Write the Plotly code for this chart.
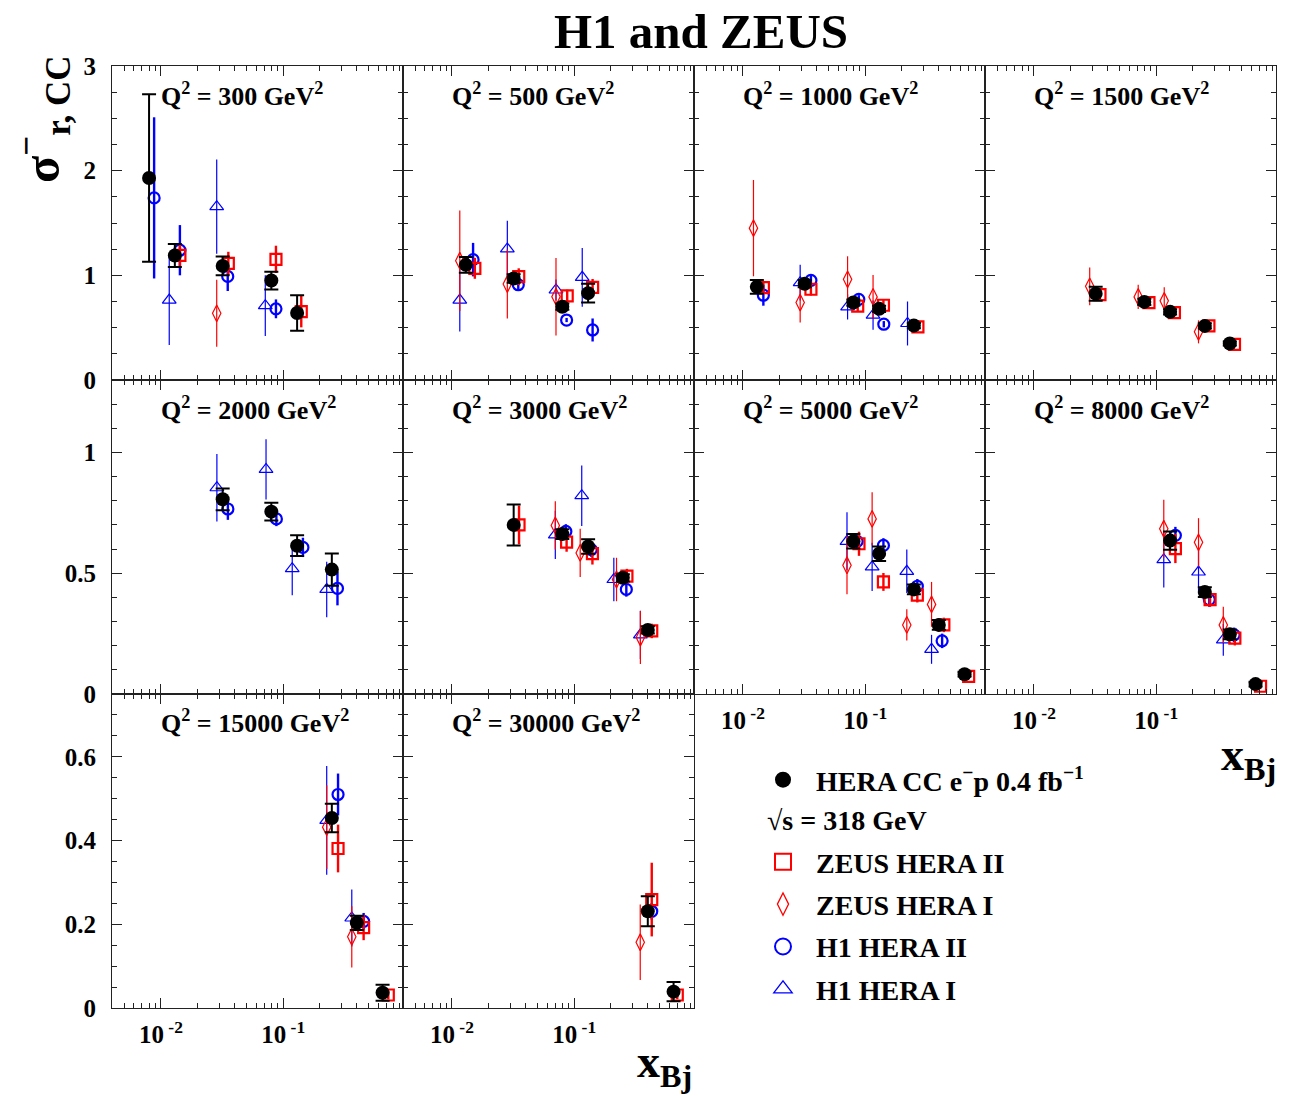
import plotly.graph_objects as go

W, H = 1300, 1096
FONT = "Liberation Serif"

# ---------------- data ----------------
Q2 = [300, 500, 1000, 1500, 2000, 3000, 5000, 8000, 15000, 30000]

# HERA combined CC e-p
hera_x = [[0.008, 0.013, 0.032, 0.08, 0.13],
          [0.013, 0.032, 0.08, 0.13],
          [0.013, 0.032, 0.08, 0.13, 0.25],
          [0.032, 0.08, 0.13, 0.25, 0.40],
          [0.032, 0.08, 0.13, 0.25],
          [0.032, 0.08, 0.13, 0.25, 0.40],
          [0.08, 0.13, 0.25, 0.40, 0.65],
          [0.13, 0.25, 0.40, 0.65],
          [0.25, 0.40, 0.65],
          [0.40, 0.65]]
hera_y = [[1.93, 1.19, 1.09, 0.95, 0.64],
          [1.10, 0.97, 0.70, 0.83],
          [0.89, 0.92, 0.74, 0.68, 0.52],
          [0.825, 0.746, 0.651, 0.517, 0.349],
          [0.806, 0.755, 0.614, 0.515],
          [0.70, 0.662, 0.611, 0.481, 0.265],
          [0.632, 0.581, 0.433, 0.286, 0.082],
          [0.635, 0.422, 0.247, 0.041],
          [0.454, 0.2035, 0.0366],
          [0.231, 0.039]]
hera_e = [[0.80, 0.11, 0.09, 0.085, 0.17],
          [0.075, 0.04, 0.03, 0.09],
          [0.065, 0.035, 0.03, 0.03, 0.025],
          [0.067, 0.03, 0.025, 0.025, 0.02],
          [0.045, 0.037, 0.043, 0.067],
          [0.085, 0.02, 0.03, 0.015, 0.015],
          [0.03, 0.03, 0.02, 0.02, 0.01],
          [0.038, 0.02, 0.02, 0.01],
          [0.034, 0.017, 0.019],
          [0.036, 0.023]]

# ZEUS HERA II
zeus2_x = [[0.0143, 0.0356, 0.0873, 0.1406],
           [0.0154, 0.0352, 0.0877, 0.1415],
           [0.0147, 0.036, 0.0869, 0.141, 0.27],
           [0.0347, 0.0873, 0.141, 0.27, 0.437],
           [],
           [0.0354, 0.0867, 0.141, 0.27, 0.431],
           [0.089, 0.141, 0.267, 0.44, 0.702],
           [0.1436, 0.276, 0.44, 0.714],
           [0.281, 0.455, 0.724],
           [0.431, 0.697]]
zeus2_y = [[1.19, 1.115, 1.153, 0.653],
           [1.067, 0.987, 0.803, 0.885],
           [0.883, 0.867, 0.705, 0.714, 0.508],
           [0.816, 0.74, 0.644, 0.517, 0.34],
           [],
           [0.70, 0.629, 0.581, 0.488, 0.261],
           [0.622, 0.464, 0.409, 0.286, 0.073],
           [0.602, 0.391, 0.231, 0.032],
           [0.381, 0.192, 0.031],
           [0.259, 0.031]]
zeus2_e = [[0.10, 0.11, 0.13, 0.15],
           [0.10, 0.08, 0.06, 0.08],
           [0.05, 0.06, 0.05, 0.05, 0.03],
           [0.05, 0.03, 0.03, 0.03, 0.02],
           [],
           [0.08, 0.04, 0.045, 0.03, 0.03],
           [0.05, 0.037, 0.03, 0.03, 0.01],
           [0.06, 0.03, 0.03, 0.01],
           [0.057, 0.03, 0.01],
           [0.088, 0.01]]

# ZEUS HERA I
zeus1_x = [[0.0286],
           [0.0116, 0.0284, 0.071],
           [0.0122, 0.0294, 0.0718, 0.116],
           [0.0286, 0.0713, 0.1164, 0.222],
           [],
           [0.0701, 0.112, 0.222, 0.348],
           [0.071, 0.114, 0.219, 0.349],
           [0.1154, 0.222, 0.354],
           [0.227, 0.364],
           [0.347]]
zeus1_y = [[0.637],
           [1.14, 0.917, 0.796],
           [1.451, 0.74, 0.962, 0.794],
           [0.895, 0.794, 0.756, 0.46],
           [],
           [0.698, 0.584, 0.474, 0.234],
           [0.533, 0.725, 0.286, 0.371],
           [0.684, 0.628, 0.286],
           [0.432, 0.17],
           [0.157]]
zeus1_e = [[0.32],
           [0.48, 0.33, 0.37],
           [0.46, 0.19, 0.22, 0.21],
           [0.18, 0.115, 0.13, 0.11],
           [],
           [0.10, 0.10, 0.09, 0.11],
           [0.12, 0.11, 0.065, 0.093],
           [0.12, 0.10, 0.075],
           [0.10, 0.073],
           [0.09]]

# H1 HERA II
h12_x = [[0.0088, 0.0143, 0.0352, 0.0873],
         [0.0149, 0.0349, 0.0867, 0.1415],
         [0.0147, 0.036, 0.0887, 0.142],
         [],
         [0.0353, 0.088, 0.145, 0.278],
         [0.0855, 0.138, 0.267],
         [0.086, 0.141, 0.267, 0.426],
         [0.1436, 0.272, 0.434],
         [0.281, 0.455],
         [0.431]]
h12_y = [[1.74, 1.24, 0.99, 0.68],
         [1.15, 0.91, 0.573, 0.478],
         [0.81, 0.952, 0.771, 0.533],
         [],
         [0.766, 0.725, 0.607, 0.437],
         [0.673, 0.598, 0.433],
         [0.632, 0.615, 0.446, 0.22],
         [0.657, 0.391, 0.245],
         [0.51, 0.207],
         [0.231]]
h12_e = [[0.77, 0.24, 0.14, 0.09],
         [0.16, 0.06, 0.02, 0.11],
         [0.10, 0.05, 0.04, 0.03],
         [],
         [0.045, 0.03, 0.04, 0.07],
         [0.03, 0.03, 0.03],
         [0.03, 0.03, 0.03, 0.03],
         [0.035, 0.03, 0.03],
         [0.05, 0.02],
         [0.02]]

# H1 HERA I
h11_x = [[0.0117, 0.0286, 0.0714],
         [0.0116, 0.0284, 0.071, 0.1164],
         [0.0294, 0.0718, 0.116, 0.222],
         [],
         [0.0287, 0.0724, 0.1186, 0.227],
         [0.0701, 0.1153, 0.211, 0.348],
         [0.071, 0.114, 0.219, 0.349],
         [0.1154, 0.222, 0.354],
         [0.227, 0.364],
         []]
h11_y = [[0.764, 1.656, 0.71],
         [0.764, 1.252, 0.86, 0.981],
         [0.93, 0.698, 0.619, 0.54],
         [],
         [0.854, 0.93, 0.519, 0.433],
         [0.659, 0.821, 0.474, 0.245],
         [0.632, 0.526, 0.508, 0.185],
         [0.556, 0.505, 0.224],
         [0.448, 0.215],
         []]
h11_e = [[0.43, 0.45, 0.29],
         [0.30, 0.27, 0.10, 0.28],
         [0.17, 0.12, 0.14, 0.21],
         [],
         [0.14, 0.125, 0.11, 0.115],
         [0.10, 0.125, 0.09, 0.10],
         [0.12, 0.10, 0.09, 0.06],
         [0.115, 0.09, 0.066],
         [0.13, 0.068],
         []]

row_ranges = [[0, 3], [0, 1.3], [0, 0.75]]
row_major = [[0, 1, 2, 3], [0, 0.5, 1], [0, 0.2, 0.4, 0.6]]
row_major_text = [["0", "1", "2", "3"], ["0", "0.5", "1"], ["0", "0.2", "0.4", "0.6"]]
row_minor = [[0.25, 0.5, 0.75, 1.25, 1.5, 1.75, 2.25, 2.5, 2.75],
             [0.1, 0.2, 0.3, 0.4, 0.6, 0.7, 0.8, 0.9, 1.1, 1.2],
             [0.05, 0.1, 0.15, 0.25, 0.3, 0.35, 0.45, 0.5, 0.55, 0.65, 0.7]]
x_major = [0.01, 0.1]
x_major_text = ["10<sup> -2</sup>", "10<sup> -1</sup>"]
x_minor = [k * 10.0 ** e for e in (-3, -2, -1) for k in range(2, 10)]

# ---------------- layout geometry ----------------
col_left = [112, 403, 694, 985]
col_w = 291
row_top = [66, 380, 694]
row_h = 314
XRANGE = [-2.4, -0.02]

RED = "#ff0000"
BLUE = "#0000ff"
HERA_NAME = "HERA CC e<sup>−</sup>p 0.4 fb<sup>−1</sup>"

# drawing order: HERA I sets first, combined HERA data on top
datasets = [
    dict(name="H1 HERA I", x=h11_x, y=h11_y, e=h11_e,
         marker=dict(symbol="triangle-up-open", size=12, color=BLUE, line=dict(width=1.2, color=BLUE)),
         err=dict(color=BLUE, thickness=1.2, width=0)),
    dict(name="ZEUS HERA I", x=zeus1_x, y=zeus1_y, e=zeus1_e,
         marker=dict(symbol="diamond-tall-open", size=12, color=RED, line=dict(width=1.2, color=RED)),
         err=dict(color=RED, thickness=1.2, width=0)),
    dict(name="H1 HERA II", x=h12_x, y=h12_y, e=h12_e,
         marker=dict(symbol="circle-open", size=11, color=BLUE, line=dict(width=2.2, color=BLUE)),
         err=dict(color=BLUE, thickness=2.4, width=0)),
    dict(name="ZEUS HERA II", x=zeus2_x, y=zeus2_y, e=zeus2_e,
         marker=dict(symbol="square-open", size=11, color=RED, line=dict(width=2.2, color=RED)),
         err=dict(color=RED, thickness=2.4, width=0)),
    dict(name=HERA_NAME, x=hera_x, y=hera_y, e=hera_e,
         marker=dict(symbol="circle", size=14, color="black", line=dict(width=0)),
         err=dict(color="black", thickness=2, width=7)),
]

fig = go.Figure()

for ds in datasets:
    for i in range(len(Q2)):
        if not ds["x"][i]:
            continue
        ax = "" if i == 0 else str(i + 1)
        fig.add_trace(go.Scatter(
            x=ds["x"][i], y=ds["y"][i], mode="markers",
            xaxis="x" + ax, yaxis="y" + ax,
            marker=ds["marker"],
            error_y=dict(type="data", array=ds["e"][i], visible=True, **ds["err"]),
            name=ds["name"], legendgroup=ds["name"], showlegend=False, hoverinfo="skip",
        ))

# legend entries (larger symbols, as in the reference key)
legend_entries = [
    (HERA_NAME, "legend", dict(symbol="circle", size=16, color="black", line=dict(width=0))),
    ("ZEUS HERA II", "legend2", dict(symbol="square-open", size=16, color=RED, line=dict(width=2, color=RED))),
    ("ZEUS HERA I", "legend2", dict(symbol="diamond-tall-open", size=16, color=RED, line=dict(width=1.3, color=RED))),
    ("H1 HERA II", "legend2", dict(symbol="circle-open", size=16, color=BLUE, line=dict(width=2, color=BLUE))),
    ("H1 HERA I", "legend2", dict(symbol="triangle-up-open", size=16, color=BLUE, line=dict(width=1.3, color=BLUE))),
]
for name, leg, mk in legend_entries:
    fig.add_trace(go.Scatter(
        x=[None], y=[None], mode="markers", marker=mk, name=name,
        legendgroup=name, legend=leg, showlegend=True, hoverinfo="skip",
    ))

tick_font = dict(family=FONT, size=25, color="black", weight="bold")
annotations = []
layout = {}
for i, q in enumerate(Q2):
    r, c = divmod(i, 4)
    left = col_left[c]
    top = row_top[r]
    xd = [left / W, (left + col_w) / W]
    yd = [1 - (top + row_h) / H, 1 - top / H]
    ax = "" if i == 0 else str(i + 1)
    show_xlab = (r == 2) or (r == 1 and c >= 2)
    layout["xaxis" + ax] = dict(
        type="log", range=XRANGE, domain=xd, anchor="y" + ax,
        showline=True, linecolor="#222222", linewidth=1.2, mirror="allticks",
        ticks="inside", ticklen=10, tickwidth=1.2, tickcolor="#222222",
        tickmode="array", tickvals=x_major, ticktext=x_major_text,
        showticklabels=show_xlab, tickfont=tick_font, ticklabelstandoff=4,
        minor=dict(tickmode="array", tickvals=x_minor, ticks="inside", ticklen=5,
                   tickwidth=1, tickcolor="#222222", showgrid=False),
        showgrid=False, zeroline=False, fixedrange=True, automargin=False,
    )
    layout["yaxis" + ax] = dict(
        range=row_ranges[r], domain=yd, anchor="x" + ax,
        showline=True, linecolor="#222222", linewidth=1.2, mirror="allticks",
        ticks="inside", ticklen=10, tickwidth=1.2, tickcolor="#222222",
        tickmode="array", tickvals=row_major[r], ticktext=row_major_text[r],
        showticklabels=(c == 0), tickfont=tick_font, ticklabelstandoff=10,
        minor=dict(tickmode="array", tickvals=row_minor[r], ticks="inside", ticklen=5,
                   tickwidth=1, tickcolor="#222222", showgrid=False),
        showgrid=False, zeroline=False, fixedrange=True, automargin=False,
    )
    annotations.append(dict(
        text=f"Q<sup>2</sup> = {q} GeV<sup>2</sup>", xref="paper", yref="paper",
        x=(left + 47) / W, y=1 - (top + 28) / H, xanchor="left", yanchor="middle",
        showarrow=False, font=dict(family=FONT, size=26, color="black", weight="bold"),
    ))

annotations += [
    dict(text="H1 and ZEUS", xref="paper", yref="paper", x=701 / W, y=1 - 32 / H,
         xanchor="center", yanchor="middle", showarrow=False,
         font=dict(family=FONT, size=49, color="black", weight="bold")),
    dict(text="σ<sup>−</sup><sub>r, CC</sub>", xref="paper", yref="paper", x=42 / W, y=1 - 119 / H,
         xanchor="center", yanchor="middle", textangle=-90, showarrow=False,
         font=dict(family=FONT, size=50, color="black", weight="bold")),
    dict(text="x<sub>Bj</sub>", xref="paper", yref="paper", x=694 / W, y=1 - 1065 / H,
         xanchor="right", yanchor="middle", showarrow=False,
         font=dict(family=FONT, size=46, color="black", weight="bold")),
    dict(text="x<sub>Bj</sub>", xref="paper", yref="paper", x=1278 / W, y=1 - 758 / H,
         xanchor="right", yanchor="middle", showarrow=False,
         font=dict(family=FONT, size=46, color="black", weight="bold")),
    dict(text="√s = 318 GeV", xref="paper", yref="paper", x=765 / W, y=1 - 820 / H,
         xanchor="left", yanchor="middle", showarrow=False,
         font=dict(family=FONT, size=28, color="black", weight="bold")),
]

legend_font = dict(family=FONT, size=28, color="black", weight="bold")
fig.update_layout(
    width=W, height=H, margin=dict(l=0, r=0, t=0, b=0, autoexpand=False),
    paper_bgcolor="white", plot_bgcolor="white",
    annotations=annotations,
    legend=dict(x=750 / W, y=1 - 755 / H, xanchor="left", yanchor="top",
                font=legend_font, bgcolor="rgba(0,0,0,0)", tracegroupgap=3, itemwidth=56),
    legend2=dict(x=750 / W, y=1 - 837 / H, xanchor="left", yanchor="top",
                 font=legend_font, bgcolor="rgba(0,0,0,0)", tracegroupgap=3, itemwidth=56),
    **layout,
)

fig.write_html("out.html")
